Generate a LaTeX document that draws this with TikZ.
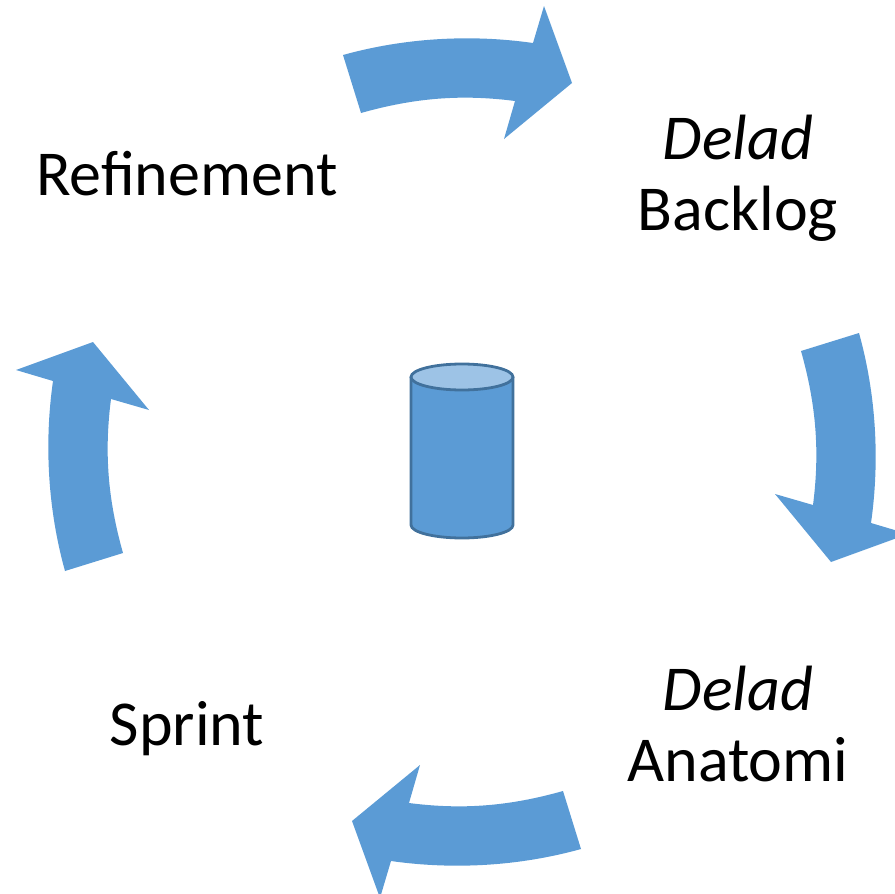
\documentclass[tikz,border=0pt]{standalone}
\usepackage{fontspec}
\setmainfont{Carlito}
\definecolor{arrowblue}{HTML}{5B9BD5}
\definecolor{liftblue}{HTML}{9DC3E6}
\definecolor{edgeblue}{HTML}{41719C}
\tikzset{
  phase/.style={font=\fontsize{64}{71}\selectfont, align=center},
  turn/.style={fill=arrowblue, draw=none}
}
\begin{document}
\begin{tikzpicture}[x=1pt,y=-1pt]
\useasboundingbox (0,0) rectangle (895,894);
\foreach \a in {0,-90,-180,-270} {
  \begin{scope}[shift={(462,452)},rotate=\a]
    \fill [turn] (-119,-397) .. controls (-58,-414) and (8,-418) .. (71,-409) -- (82,-446) -- (110,-369) -- (42,-313) -- (53,-351) .. controls (-1,-358) and (-48,-354) .. (-101,-339) -- cycle;
  \end{scope}
}
\draw [fill=arrowblue, draw=edgeblue, line width=2.8pt] (411,377) -- (411,525) arc (180:0:51 and 13) -- (513,377);
\draw [fill=liftblue, draw=edgeblue, line width=2.8pt] (462,377) ellipse (51 and 13);
\node [phase] (refinement) at (187,174) {Refinement};
\node [phase] (backlog) at (738,178) {\textit{Delad}\\Backlog};
\node [phase] (anatomi) at (738,724) {\textit{Delad}\\Anatomi};
\node [phase] (sprint) at (187,729) {Sprint};
\end{tikzpicture}
\end{document}
